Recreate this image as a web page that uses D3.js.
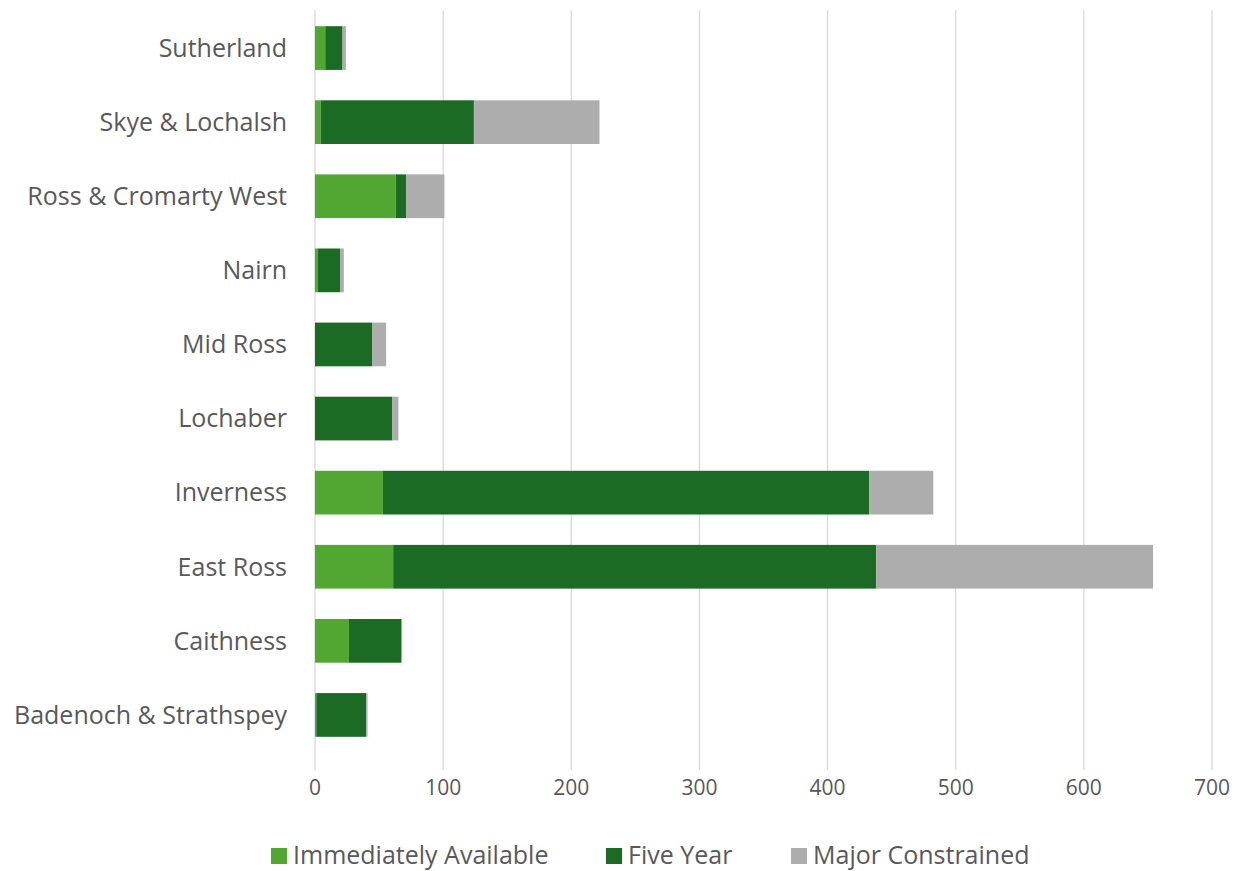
<!DOCTYPE html>
<html><head><meta charset="utf-8">
<script src="https://cdn.jsdelivr.net/npm/d3@7/dist/d3.min.js"></script>
<style>body{margin:0;background:#fff}text{font-family:"Open Sans","Noto Sans",sans-serif;fill:#595959}</style>
</head><body><svg id="c" width="1239" height="871"></svg>
<script>
const categories = ["Sutherland","Skye & Lochalsh","Ross & Cromarty West","Nairn","Mid Ross","Lochaber","Inverness","East Ross","Caithness","Badenoch & Strathspey"];
const seriesNames = ["Immediately Available","Five Year","Major Constrained"];
const immediatelyAvailable = [8, 4.5, 63, 2, 0, 0, 53, 61, 26.5, 1];
const fiveYear = [13.5, 119.5, 8, 17.5, 44.5, 60.4, 379.5, 377, 41, 39];
const majorConstrained = [2.6, 98, 30, 3, 11, 4.7, 50, 216, 0, 1];
const xTicks = [0,100,200,300,400,500,600,700];
const colors = ["#52A732","#1B6B24","#ADADAD"];

const svg = d3.select("#c");
const x = d3.scaleLinear().domain([0,700]).range([315,1212]);
const y = d3.scaleBand().domain(categories).range([11,752]).paddingInner(0.41).paddingOuter(0.205);

svg.append("g").selectAll("line").data(xTicks).join("line")
  .attr("x1",d=>x(d)).attr("x2",d=>x(d)).attr("y1",10).attr("y2",770)
  .attr("stroke","#D9D9D9").attr("stroke-width",1.3);

const rows = categories.map((c,i)=>({cat:c, vals:[immediatelyAvailable[i],fiveYear[i],majorConstrained[i]]}));
const stack = d3.stack().keys([0,1,2]).value((d,k)=>d.vals[k]);
const layers = stack(rows);
svg.append("g").selectAll("g").data(layers).join("g")
  .attr("fill",(d,i)=>colors[i])
  .selectAll("rect").data(d=>d).join("rect")
  .attr("x",d=>x(d[0])).attr("width",d=>Math.max(0,x(d[1])-x(d[0])))
  .attr("y",d=>y(d.data.cat)).attr("height",y.bandwidth());

svg.append("g").selectAll("text").data(categories).join("text")
  .attr("x",287).attr("y",d=>y(d)+y.bandwidth()/2)
  .attr("text-anchor","end").attr("dy","0.35em")
  .style("font-size","25px").text(d=>d);

svg.append("g").selectAll("text").data(xTicks).join("text")
  .attr("x",d=>x(d)).attr("y",788).attr("text-anchor","middle").attr("dy","0.35em")
  .style("font-size","21px").text(d=>d);

const legX = [271, 606, 791];
const lg = svg.append("g").selectAll("g").data(seriesNames).join("g")
  .attr("transform",(d,i)=>`translate(${legX[i]},855)`);
lg.append("rect").attr("x",0).attr("y",-7).attr("width",16).attr("height",16).attr("fill",(d,i)=>colors[i]);
lg.append("text").attr("x",22).attr("y",0).attr("dy","0.35em").style("font-size","25px").text(d=>d);
</script></body></html>
